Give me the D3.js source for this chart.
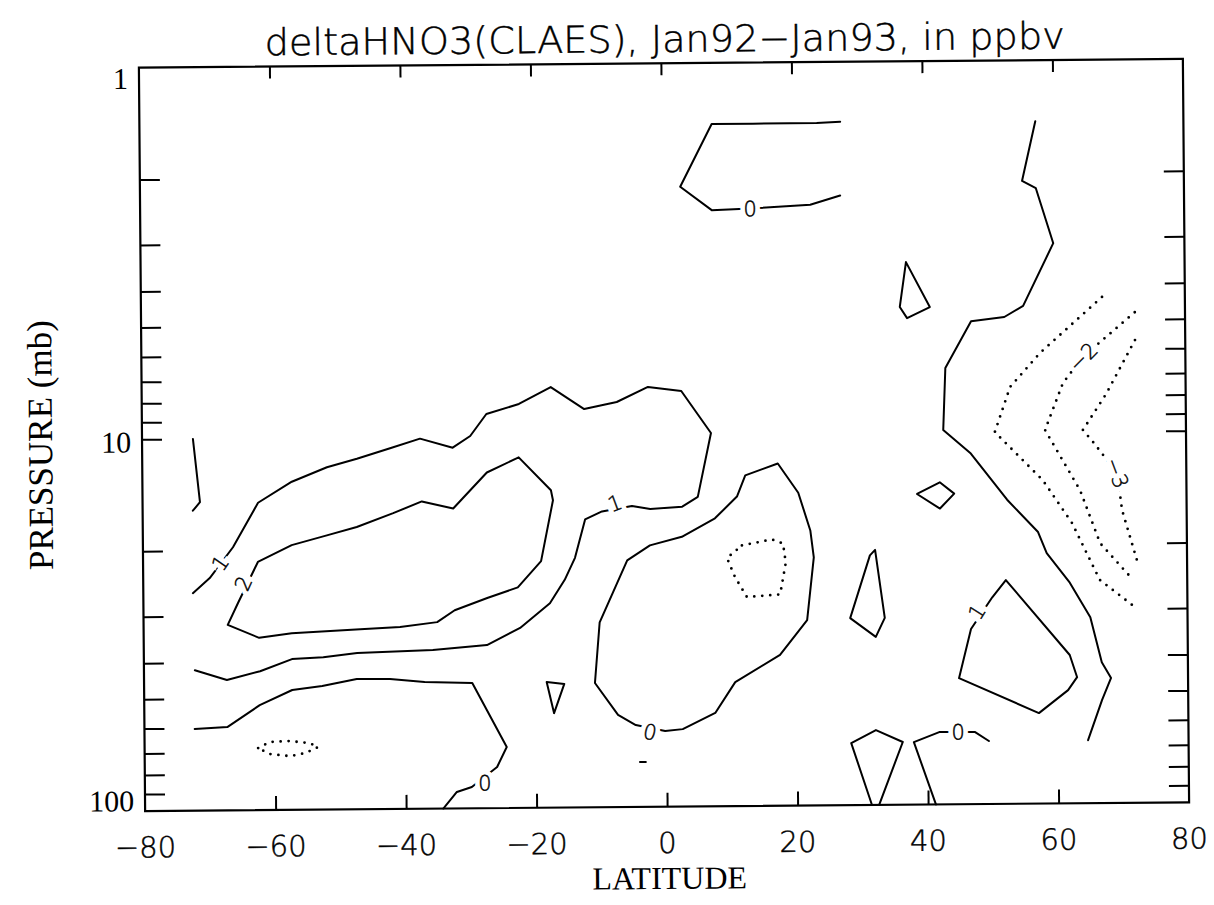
<!DOCTYPE html>
<html>
<head>
<meta charset="utf-8">
<script src="https://cdn.jsdelivr.net/npm/d3@7"></script>
<style>
    body { margin: 0; background: #fff; }
    svg text { fill: #000; }
</style>
</head>
<body>
<svg id="chart" width="1214" height="905"></svg>
<script>

const title_text = "deltaHNO3(CLAES), Jan92\u2212Jan93, in ppbv";
const x_title = "LATITUDE";
const y_title = "PRESSURE (mb)";

const lat_tick_values = [-60, -40, -20, 0, 20, 40, 60];
const lat_tick_labels = [-80, -60, -40, -20, 0, 20, 40, 60, 80];
const pressure_tick_values = [2, 3, 4, 5, 6, 7, 8, 9, 10, 20, 30, 40, 50, 60, 70, 80, 90];
const pressure_tick_labels = [1, 10, 100];

// contour lines, each point is [latitude, pressure in mb]
const c0_top = [[27.4, 1.45], [23.8, 1.46], [19.7, 1.46], [14.0, 1.46], [7.7, 1.46], [2.8, 2.15],
    [7.6, 2.49], [13.5, 2.47], [22.7, 2.42], [27.3, 2.29]];
const c0_right = [[57.3, 1.46], [55.2, 2.11], [57.3, 2.21], [59.9, 3.11], [55.2, 4.58], [52.3, 4.90],
    [47.2, 5.02], [43.2, 6.70], [42.8, 9.84], [47.0, 11.4], [52.5, 15.2], [57.2, 18.6], [58.5, 21.2],
    [62.0, 25.5], [65.1, 31.6], [66.8, 41.8], [68.2, 46.1], [66.8, 52.8], [64.6, 67.7]];
const c1_edge = [[-72.2, 10.0], [-71.2, 14.8], [-72.3, 15.6]];
const c1_left = [[-72.2, 41.9], [-67.3, 44.6], [-62.2, 42.3], [-57.3, 39.3], [-52.5, 38.9], [-47.3, 38.0],
    [-35.7, 37.4], [-27.4, 36.4], [-22.3, 32.8], [-17.7, 28.2], [-15.4, 24.4], [-13.8, 21.3],
    [-12.2, 16.8], [-9.6, 16.0], [-5.0, 15.5], [-2.2, 15.8], [2.7, 15.6], [5.1, 14.7], [7.2, 9.90],
    [2.7, 7.62], [-2.4, 7.42], [-7.2, 8.13], [-12.2, 8.48], [-17.3, 7.39], [-22.2, 8.19], [-27.2, 8.70],
    [-29.7, 9.96], [-32.4, 10.7], [-37.4, 10.1], [-42.0, 10.7], [-47.1, 11.4], [-51.7, 12.0],
    [-57.1, 13.1], [-62.3, 14.9], [-66.2, 19.6], [-69.8, 23.7], [-72.4, 26.0]];
const c2_left = [[-65.5, 27.7], [-67.1, 31.7], [-62.3, 34.4], [-57.3, 33.5], [-46.8, 32.8], [-40.7, 32.4],
    [-35.0, 31.5], [-32.3, 29.3], [-27.3, 27.2], [-22.6, 25.5], [-19.0, 21.7], [-17.1, 14.9],
    [-17.4, 14.0], [-22.3, 11.4], [-27.2, 12.5], [-32.4, 15.6], [-37.2, 14.9], [-41.6, 16.0],
    [-47.2, 17.4], [-51.8, 18.3], [-57.2, 19.4], [-62.4, 21.5]];
const cneg_left = [[-62.6, 68.1], [-60.8, 65.6], [-57.7, 65.3], [-54.7, 66.2], [-53.4, 67.9],
    [-55.4, 70.4], [-57.7, 71.7], [-60.8, 70.7]];
const c0_left = [[-72.3, 60.3], [-67.3, 59.7], [-62.3, 52.2], [-57.3, 47.6], [-52.7, 46.5], [-47.4, 44.6],
    [-42.3, 44.7], [-37.0, 45.6], [-29.7, 46.0], [-24.5, 68.5], [-26.0, 77.5], [-29.9, 87.6],
    [-32.2, 90.3], [-34.3, 100]];
const c0_tri_a = [[-18.3, 45.9], [-15.6, 46.5], [-17.2, 55.7]];
const c0_dash = [[-4.1, 75.7], [-3.2, 75.7]];
const c0_mid = [[17.4, 12.0], [20.5, 14.4], [22.3, 18.2], [22.8, 21.5], [21.7, 31.7], [17.5, 39.3],
    [10.6, 46.4], [7.5, 56.1], [2.5, 61.9], [-0.2, 62.6], [-4.7, 60.2], [-7.4, 56.5], [-10.9, 46.3],
    [-10.1, 31.8], [-5.8, 21.7], [-2.3, 19.8], [2.6, 18.8], [7.7, 16.8], [11.1, 14.7], [12.4, 12.9]];
const cneg_mid = [[11.8, 19.9], [16.4, 19.2], [18.1, 19.7], [18.5, 22.2], [17.6, 27.0], [12.5, 27.4],
    [10.7, 24.2], [9.5, 21.5]];
const c0_tri_b = [[32.2, 20.6], [33.6, 31.4], [32.2, 35.3], [28.3, 31.4], [31.4, 21.3]];
const c0_diamond = [[38.7, 14.6], [42.2, 13.6], [44.4, 14.6], [42.2, 16.0]];
const c0_tri_c = [[37.3, 3.47], [40.9, 4.59], [37.4, 4.91], [36.3, 4.58]];
const c0_pent = [[31.4, 100], [28.3, 68.1], [32.1, 62.9], [36.2, 67.8], [32.5, 100]];
const c0_bottom = [[41.2, 100], [37.9, 67.9], [41.8, 63.9], [47.3, 64.0], [49.4, 67.7]];
const c1_right = [[50.1, 27.8], [52.2, 25.0], [61.9, 39.9], [63.0, 45.8], [61.6, 49.6], [57.1, 57.1],
    [44.9, 45.8], [46.8, 33.8]];
const cm1_right = [[67.3, 4.35], [57.7, 6.14], [53.1, 7.56], [50.7, 9.99], [58.0, 13.5], [62.4, 17.6],
    [66.6, 25.1], [72.0, 29.8]];
const cm2_right = [[72.3, 4.79], [64.3, 6.30], [61.2, 7.40], [58.4, 9.89], [63.7, 14.4], [66.7, 20.0],
    [71.5, 24.9]];
const cm3_right = [[72.3, 5.69], [67.8, 7.94], [64.2, 9.91], [65.6, 10.6], [69.4, 12.95], [70.1, 16.3],
    [72.3, 22.2]];

const contour_lines = [
    {level: 0, closed: false, points: c0_top},
    {level: 0, closed: false, points: c0_right},
    {level: 1, closed: false, points: c1_edge},
    {level: 1, closed: false, points: c1_left},
    {level: 2, closed: true, points: c2_left},
    {level: -1, closed: true, points: cneg_left},
    {level: 0, closed: false, points: c0_left},
    {level: 0, closed: true, points: c0_tri_a},
    {level: 0, closed: false, points: c0_dash},
    {level: 0, closed: true, points: c0_mid},
    {level: -1, closed: true, points: cneg_mid},
    {level: 0, closed: true, points: c0_tri_b},
    {level: 0, closed: true, points: c0_diamond},
    {level: 0, closed: true, points: c0_tri_c},
    {level: 0, closed: false, points: c0_pent},
    {level: 0, closed: false, points: c0_bottom},
    {level: 1, closed: true, points: c1_right},
    {level: -1, closed: false, points: cm1_right},
    {level: -2, closed: false, points: cm2_right},
    {level: -3, closed: false, points: cm3_right}
];

// [level, latitude, pressure, angle]
const contour_labels = [
    [0, 13.5, 2.47, 0],
    [1, -68.2, 21.6, -55],
    [2, -64.7, 24.5, -65],
    [1, -7.6, 15.2, -20],
    [0, -27.9, 85.5, 0],
    [0, -2.5, 62.9, 12],
    [0, 44.7, 63.9, 0],
    [1, 47.7, 30.4, -57],
    [-2, 64.3, 6.3, -45],
    [-3, 69.4, 12.95, 70]
];


class ContourCanvas {

    constructor(html_selector_id) {
        this.svg = d3.select(html_selector_id);
        this.left = 142;
        this.right = 1186;
        this.top = 63.3;
        this.bottom = 806.7;

        this.x = d3.scaleLinear().domain([-80, 80]).range([this.left, this.right]);
        this.y = d3.scaleLog().domain([1, 100]).range([this.top, this.bottom]);

        // the scanned page is tilted a little
        this.root = this.svg.append("g")
            .attr("transform", "rotate(-0.48 664 435)");
    }

    // thin sans text made a bit heavier with an outline, like the plotter font
    plotter_text(sel, size) {
        return sel
            .style("font-family", "'DejaVu Sans', sans-serif")
            .style("font-weight", 200)
            .style("font-size", size + "px")
            .attr("stroke", "#000")
            .attr("stroke-width", 0.45);
    }

    draw_title() {
        this.root.append("text")
            .attr("x", 668)
            .attr("y", 52)
            .attr("text-anchor", "middle")
            .attr("textLength", 800)
            .attr("lengthAdjust", "spacingAndGlyphs")
            .call(sel => this.plotter_text(sel, 37))
            .text(title_text);
    }

    draw_axes() {
        let _this = this;
        let tick_style = function (g) {
            g.select(".domain").remove();
            g.selectAll(".tick line").attr("stroke", "#000").attr("stroke-width", 2);
        };

        this.root.append("g")
            .attr("transform", "translate(0," + this.bottom + ")")
            .call(d3.axisBottom(this.x).tickValues(lat_tick_values).tickSize(-14).tickFormat(""))
            .call(tick_style);
        this.root.append("g")
            .attr("transform", "translate(0," + this.top + ")")
            .call(d3.axisTop(this.x).tickValues(lat_tick_values).tickSize(-12).tickFormat(""))
            .call(tick_style);
        this.root.append("g")
            .attr("transform", "translate(" + this.left + ",0)")
            .call(d3.axisLeft(this.y).tickValues(pressure_tick_values).tickSize(-20).tickFormat(""))
            .call(tick_style);
        this.root.append("g")
            .attr("transform", "translate(" + this.right + ",0)")
            .call(d3.axisRight(this.y).tickValues(pressure_tick_values).tickSize(-20).tickFormat(""))
            .call(tick_style);

        this.root.append("rect")
            .attr("x", this.left)
            .attr("y", this.top)
            .attr("width", this.right - this.left)
            .attr("height", this.bottom - this.top)
            .attr("fill", "none")
            .attr("stroke", "#000")
            .attr("stroke-width", 2.2);

        this.root.selectAll(".lat-label")
            .data(lat_tick_labels)
            .enter()
            .append("text")
            .attr("class", "lat-label")
            .attr("x", d => _this.x(d))
            .attr("y", 853)
            .attr("text-anchor", "middle")
            .call(sel => _this.plotter_text(sel, 29))
            .text(d => d < 0 ? "\u2212" + Math.abs(d) : String(d));

        this.root.selectAll(".p-label")
            .data(pressure_tick_labels)
            .enter()
            .append("text")
            .attr("class", "p-label")
            .attr("x", 131)
            .attr("y", function (d) {
                let yy = Math.min(Math.max(_this.y(d) + 3, _this.top + 11), _this.bottom - 10);
                return yy + 10;
            })
            .attr("text-anchor", "end")
            .style("font-family", "'Liberation Serif', serif")
            .style("font-size", "30px")
            .text(d => d);

        this.root.append("text")
            .attr("x", 666)
            .attr("y", 889)
            .attr("text-anchor", "middle")
            .style("font-family", "'Liberation Serif', serif")
            .style("font-size", "32px")
            .text(x_title);

        this.root.append("text")
            .attr("transform", "translate(52,440) rotate(-90)")
            .attr("text-anchor", "middle")
            .style("font-family", "'Liberation Serif', serif")
            .style("font-size", "35px")
            .text(y_title);
    }

    draw_contours() {
        let _this = this;
        let open_line = d3.line().x(d => _this.x(d[0])).y(d => _this.y(d[1]));
        let closed_line = d3.line().x(d => _this.x(d[0])).y(d => _this.y(d[1]))
            .curve(d3.curveLinearClosed);

        this.root.selectAll(".contour")
            .data(contour_lines)
            .enter()
            .append("path")
            .attr("class", "contour")
            .attr("d", d => d.closed ? closed_line(d.points) : open_line(d.points))
            .attr("fill", "none")
            .attr("stroke", "#000")
            .attr("stroke-width", d => d.level < 0 ? 2.8 : 2)
            .attr("stroke-linecap", "round")
            .attr("stroke-linejoin", "round")
            .attr("stroke-dasharray", d => d.level < 0 ? "0,8" : null);

        let label_pos = function (d) {
            return "translate(" + _this.x(d[1]) + "," + _this.y(d[2]) + ") rotate(" + d[3] + ")";
        };
        let label_text = d => d[0] < 0 ? "\u2212" + Math.abs(d[0]) : String(d[0]);

        // white knock-out under each label, then the label itself
        this.root.selectAll(".label-gap")
            .data(contour_labels)
            .enter()
            .append("text")
            .attr("class", "label-gap")
            .attr("transform", label_pos)
            .attr("text-anchor", "middle")
            .attr("dy", "0.36em")
            .attr("stroke", "#fff")
            .attr("stroke-width", 9)
            .style("fill", "#fff")
            .style("font-family", "'DejaVu Sans', sans-serif")
            .style("font-size", "21px")
            .text(label_text);

        this.root.selectAll(".contour-label")
            .data(contour_labels)
            .enter()
            .append("text")
            .attr("class", "contour-label")
            .attr("transform", label_pos)
            .attr("text-anchor", "middle")
            .attr("dy", "0.36em")
            .call(sel => _this.plotter_text(sel, 21))
            .text(label_text);
    }

}

let canvas = new ContourCanvas("#chart");
canvas.draw_title();
canvas.draw_axes();
canvas.draw_contours();

</script>
</body>
</html>
